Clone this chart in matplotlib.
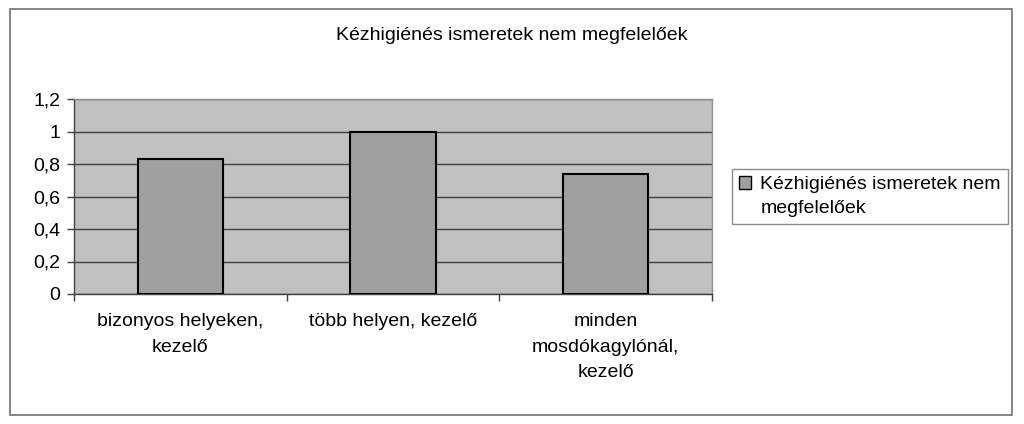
import matplotlib
matplotlib.use("Agg")
import matplotlib.pyplot as plt
from matplotlib.patches import Rectangle

categories = ["bizonyos helyeken,\nkezelő", "több helyen, kezelő", "minden\nmosdókagylónál,\nkezelő"]
values = [0.83, 1.0, 0.74]
series_name = "Kézhigiénés ismeretek nem\nmegfelelőek"
title = "Kézhigiénés ismeretek nem megfelelőek"
yticks = [0, 0.2, 0.4, 0.6, 0.8, 1.0, 1.2]
ytick_labels = ["0", "0,2", "0,4", "0,6", "0,8", "1", "1,2"]

plt.rcParams['font.family'] = ['Liberation Sans', 'DejaVu Sans']

fig = plt.figure(figsize=(10.24, 4.24), dpi=100)
fig.patch.set_facecolor("white")

# outer chart border
fig.add_artist(Rectangle((10/1024, 1 - 415/424), 1002/1024, 406/424,
                         transform=fig.transFigure, fill=False,
                         edgecolor="#707070", linewidth=1.2))

ax = fig.add_axes([74/1024, 1 - 294/424, 638/1024, 195/424])
ax.set_facecolor("#c0c0c0")

x = list(range(len(categories)))
ax.bar(x, values, width=0.4, color="#a0a0a0", edgecolor="black", linewidth=1.5,
       label=series_name, zorder=3)

ax.set_xlim(-0.5, len(categories) - 0.5)
ax.set_ylim(0, 1.2)
ax.set_yticks(yticks)
ax.set_yticklabels(ytick_labels, fontsize=14)
ax.yaxis.grid(True, color="#404040", linewidth=1.0, zorder=1)
ax.set_axisbelow(True)

# category boundaries as major ticks, labels at centers as minor
ax.set_xticks([i - 0.5 for i in range(len(categories) + 1)])
ax.set_xticklabels([])
ax.set_xticks(x, minor=True)
ax.set_xticklabels(categories, minor=True, fontsize=14, linespacing=1.65)
ax.tick_params(axis="x", which="minor", length=0, pad=14)
ax.tick_params(axis="x", which="major", length=5, width=1, color="#404040", direction="out")
ax.tick_params(axis="y", length=5, width=1, color="#404040", direction="out", pad=5)

for side in ["left", "bottom"]:
    ax.spines[side].set_color("#404040")
    ax.spines[side].set_linewidth(1.0)
for side in ["top", "right"]:
    ax.spines[side].set_color("#909090")
    ax.spines[side].set_linewidth(1.0)

fig.text(512/1024, 1 - 35/424, title, ha="center", va="center", fontsize=14)

leg = fig.legend(loc="center left", bbox_to_anchor=(732/1024, 1 - 196.5/424),
                 fontsize=14, frameon=True, fancybox=False, handlelength=0.65,
                 handleheight=0.65, handletextpad=0.45, borderpad=0.35,
                 labelspacing=0.2, borderaxespad=0)
leg.get_frame().set_edgecolor("#707070")
leg.get_frame().set_linewidth(1.0)
for t in leg.get_texts():
    t.set_linespacing(1.6)
for h in leg.legend_handles:
    h.set_linewidth(1.0)
    h.set_y(h.get_y() + 9.5)

fig.savefig("out.png", dpi=100)
